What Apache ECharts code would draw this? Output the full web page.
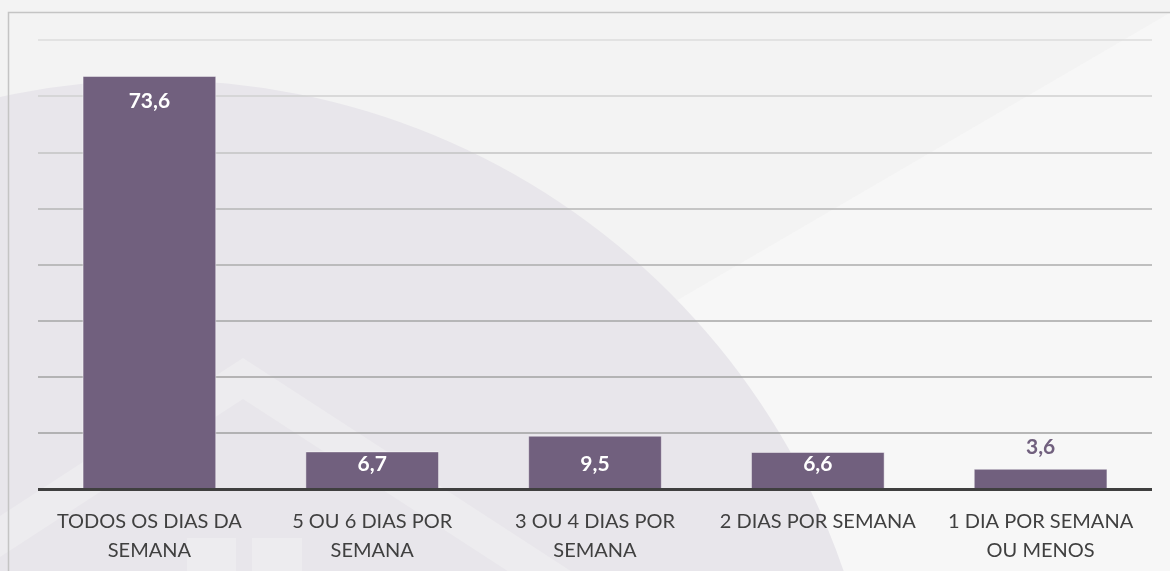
<!DOCTYPE html>
<html>
<head>
<meta charset="utf-8">
<script src="https://cdn.jsdelivr.net/npm/echarts@6/dist/echarts.min.js"></script>
<style>
html,body{margin:0;padding:0;background:#f3f3f3;}
#c{width:1170px;height:571px;}
</style>
</head>
<body>
<div id="c"></div>
<script>
const categories = [
  "TODOS OS DIAS DA\nSEMANA",
  "5 OU 6 DIAS POR\nSEMANA",
  "3 OU 4 DIAS POR\nSEMANA",
  "2 DIAS POR SEMANA",
  "1 DIA POR SEMANA\nOU MENOS"
];
const values = [73.6, 6.7, 9.5, 6.6, 3.6];
const yTicks = [0, 10, 20, 30, 40, 50, 60, 70, 80];

const BAR = '#71607e';
const FONT = 'Lato, "Open Sans", sans-serif';

function fmt(v) { return String(v).replace('.', ','); }

const seriesData = values.map(function (v) {
  let label;
  if (v < 5) {
    label = { position: 'top', distance: 11, color: BAR };
  } else if (v < 20) {
    label = { position: 'insideBottom', distance: 14, color: '#ffffff' };
  } else {
    label = { position: 'insideTop', distance: 15, color: '#ffffff' };
  }
  return { value: v, label: label };
});

const chart = echarts.init(document.getElementById('c'), null, { renderer: 'canvas' });

chart.setOption({
  backgroundColor: '#f3f3f3',
  animation: false,
  textStyle: { fontFamily: FONT },
  graphic: [
    { type: 'polygon', z: -100, silent: true,
      shape: { points: [[1170, 12.7], [1170, 571], [213, 571]] },
      style: { fill: '#f7f7f7' } },
    { type: 'circle', z: -99, silent: true,
      shape: { cx: 156, cy: 807, r: 727 },
      style: { fill: '#e8e6eb' } },
    { type: 'polygon', z: -98, silent: true,
      shape: { points: [[243, 358], [-157, 618], [-157, 659], [243, 399], [643, 659], [643, 618]] },
      style: { fill: '#edecef' } },
    { type: 'rect', z: -98, silent: true,
      shape: { x: 187, y: 538, width: 49, height: 40 },
      style: { fill: '#edecef' } },
    { type: 'rect', z: -98, silent: true,
      shape: { x: 252, y: 538, width: 50, height: 40 },
      style: { fill: '#edecef' } },
    { type: 'rect', z: -97, silent: true,
      shape: { x: 8.5, y: 12.5, width: 1400, height: 800 },
      style: { fill: 'none', stroke: '#c4c4c4', lineWidth: 1.5 } }
  ],
  grid: { left: 38, right: 18, top: 40, bottom: 82, containLabel: false },
  xAxis: {
    type: 'category',
    data: categories,
    axisLine: { show: false },
    axisTick: { show: false },
    axisLabel: {
      interval: 0,
      color: '#404040',
      fontFamily: FONT,
      fontSize: 20,
      lineHeight: 29,
      margin: 18
    }
  },
  yAxis: {
    type: 'value',
    min: yTicks[0],
    max: yTicks[yTicks.length - 1],
    interval: 10,
    axisLabel: { show: false },
    axisLine: { show: false },
    axisTick: { show: false },
    splitLine: {
      show: true,
      lineStyle: {
        width: 1.5,
        color: ['#a0a0a0', '#a0a0a0', '#a2a2a2', '#a6a6a6', '#adadad', '#b6b6b6', '#c3c3c3', '#d0d0d0', '#dcdcdc']
      }
    }
  },
  series: [{
    type: 'bar',
    data: seriesData,
    barWidth: '60%',
    itemStyle: { color: BAR, borderColor: 'rgba(255,255,255,0.45)', borderWidth: 1 },
    label: {
      show: true,
      fontFamily: FONT,
      fontWeight: 'bold',
      fontSize: 21,
      formatter: function (p) { return fmt(p.value); }
    },
    markLine: {
      silent: true,
      symbol: ['none', 'none'],
      label: { show: false },
      lineStyle: { color: '#3f3f3f', width: 3, type: 'solid' },
      emphasis: { disabled: true },
      data: [{ yAxis: yTicks[0] }]
    },
    z: 3
  }]
});
</script>
</body>
</html>
